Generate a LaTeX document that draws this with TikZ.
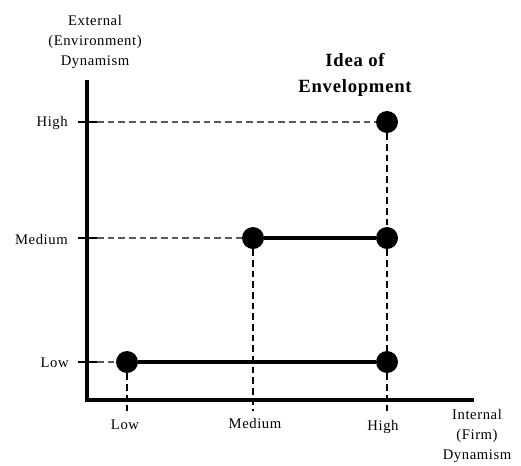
\documentclass[tikz,border=0pt]{standalone}
\usepackage{fontspec}
\setmainfont{Liberation Serif}
\begin{document}
\begin{tikzpicture}[x=0.75pt,y=-0.75pt,
  axis/.style={line width=2.6pt},
  tick/.style={line width=1.1pt},
  guide/.style={line width=1pt,dash pattern=on 5pt off 3pt,black!65},
  vguide/.style={line width=1pt,dash pattern=on 5pt off 3pt,black},
  link/.style={line width=2.6pt},
  dot/.style={circle,fill=black,inner sep=0pt,minimum size=16.5pt},
  lab/.style={font=\fontsize{11}{12}\selectfont\addfontfeature{LetterSpace=4},inner sep=0pt},
  title/.style={font=\bfseries\fontsize{14}{19.5}\selectfont\addfontfeature{LetterSpace=4},align=center,inner sep=0pt}]
\useasboundingbox (0,0) rectangle (521,465);
% axes
\coordinate (ytop) at (87,82);
\coordinate (orig) at (87,400);
\coordinate (xend) at (472,400);
\draw[axis,line cap=rect] (ytop) -- (orig) -- (xend);
% ticks
\coordinate (yh) at (78,122); \coordinate (yh2) at (97,122);
\coordinate (ym) at (78,238); \coordinate (ym2) at (97,238);
\coordinate (yl) at (78,362); \coordinate (yl2) at (97,362);
\coordinate (xl) at (127,400); \coordinate (xl2) at (127,411);
\coordinate (xm) at (255,400); \coordinate (xm2) at (255,411);
\coordinate (xh) at (387,400); \coordinate (xh2) at (387,411);
\coordinate (hwing) at (397,122);
\draw[tick] (yh) -- (yh2) (ym) -- (ym2) (yl) -- (yl2);
% guide drawn through the top dot
\draw[guide] (yh2) -- (hwing);
% dots
\node[dot] (hh) at (387,122) {};
\node[dot] (mm) at (253,238) {};
\node[dot] (mh) at (387,238) {};
\node[dot] (ll) at (127,362) {};
\node[dot] (lh) at (387,362) {};
% guides
\draw[guide] (ym2) -- (mm);
\draw[guide] (yl2) -- (ll);
\draw[vguide] (hh) -- (mh);
\draw[vguide] (mh) -- (lh);
\draw[vguide] (lh) -- (xh2);
\draw[vguide] (mm) -- (mm |- xm2);
\draw[vguide] (ll) -- (xl2);
% solid links
\draw[link] (mm) -- (mh);
\draw[link] (ll) -- (lh);
% labels
\node[lab,align=center] (ylab) at (95,42) {External\\[3pt](Environment)\\[3pt]Dynamism};
\node[lab,anchor=east] (lh1) at (68,123) {High};
\node[lab,anchor=east] (lm1) at (68,239) {Medium};
\node[lab,anchor=east] (ll1) at (69,363) {Low};
\node[lab] (xl1) at (125,425) {Low};
\node[lab] (xm1) at (255,423) {Medium};
\node[lab] (xh1) at (383,427) {High};
\node[lab,align=center] (xlab) at (477,436) {Internal\\[3pt](Firm)\\[3pt]Dynamism};
\node[title] (ttl) at (355,75) {Idea of\\Envelopment};
\end{tikzpicture}
\end{document}
